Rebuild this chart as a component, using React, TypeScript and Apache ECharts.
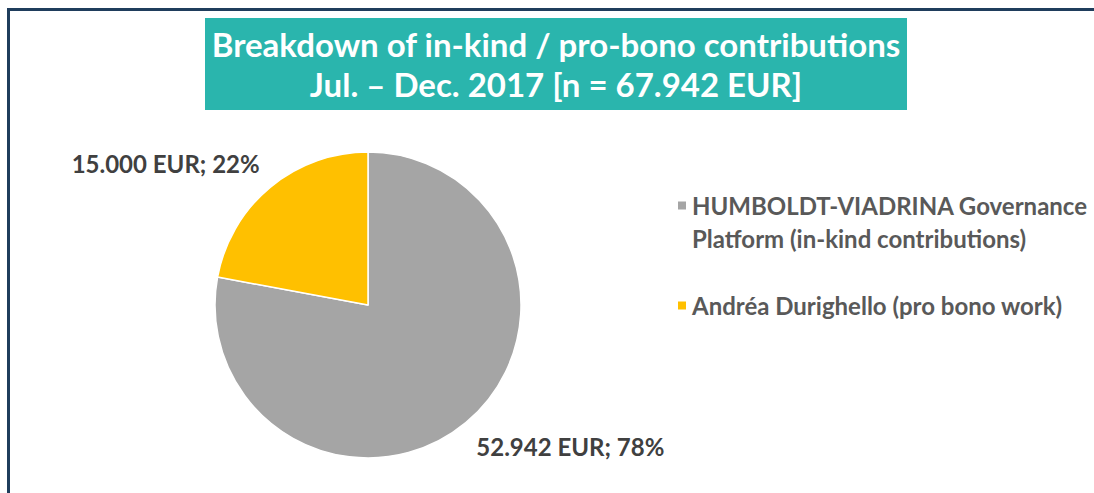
import React, { useEffect, useRef } from "react";
import * as echarts from "echarts";

const titleLines = ["Breakdown of in-kind / pro-bono contributions", "Jul. – Dec. 2017 [n = 67.942 EUR]"];
const categories = [
  "HUMBOLDT-VIADRINA Governance\nPlatform (in-kind contributions)",
  "Andréa Durighello (pro bono work)",
];
const values = [52942, 15000];
const valueLabels = ["52.942 EUR; 78%", "15.000 EUR; 22%"];
const colors = ["#a5a5a5", "#ffc000"];

const FONT = "Lato";

export default function App() {
  const ref = useRef<HTMLDivElement>(null);
  useEffect(() => {
    document.body.style.margin = "0";
    const chart = echarts.init(ref.current!, null, { renderer: "svg" });
    chart.setOption({
      animation: false,
      backgroundColor: "#ffffff",
      graphic: [
        { type: "rect", shape: { x: 7, y: 8, width: 3, height: 485 }, style: { fill: "#1f3d5c" } },
        { type: "rect", shape: { x: 7, y: 8, width: 1087, height: 3 }, style: { fill: "#1f3d5c" } },
        { type: "rect", shape: { x: 205, y: 18, width: 702, height: 92 }, style: { fill: "#2ab5ad" } },
        {
          type: "text",
          x: 556,
          y: 44,
          style: {
            text: titleLines[0],
            fill: "#ffffff",
            font: `bold 33px ${FONT}`,
            align: "center",
            verticalAlign: "middle",
          },
        },
        {
          type: "text",
          x: 556,
          y: 84,
          style: {
            text: titleLines[1],
            fill: "#ffffff",
            font: `bold 33px ${FONT}`,
            align: "center",
            verticalAlign: "middle",
          },
        },
      ],
      legend: {
        orient: "vertical",
        left: 671,
        top: 151,
        itemWidth: 10,
        itemHeight: 10,
        itemGap: 34,
        icon: "rect",
        formatter: (name: string) => (name.indexOf("\n") >= 0 ? " \n" + name : name),
        textStyle: {
          fontFamily: FONT,
          fontWeight: "bold",
          fontSize: 24,
          color: "#595959",
          lineHeight: 33,
        },
        data: categories,
      },
      series: [
        {
          type: "pie",
          center: [368, 305],
          radius: 153,
          startAngle: 90,
          clockwise: true,
          itemStyle: { borderColor: "#ffffff", borderWidth: 1.5 },
          labelLine: { show: false, length: 30.5, length2: -14 },
          label: {
            show: true,
            position: "outside",
            distanceToLabelLine: 5,
            formatter: (p: any) => valueLabels[p.dataIndex],
            fontFamily: FONT,
            fontWeight: "bold",
            fontSize: 24,
            color: "#404040",
          },
          emphasis: { disabled: true },
          data: categories.map((c, i) => ({ name: c, value: values[i], itemStyle: { color: colors[i] } })),
        },
      ],
    });
    return () => chart.dispose();
  }, []);
  return <div ref={ref} style={{ width: 1094, height: 493 }} />;
}
